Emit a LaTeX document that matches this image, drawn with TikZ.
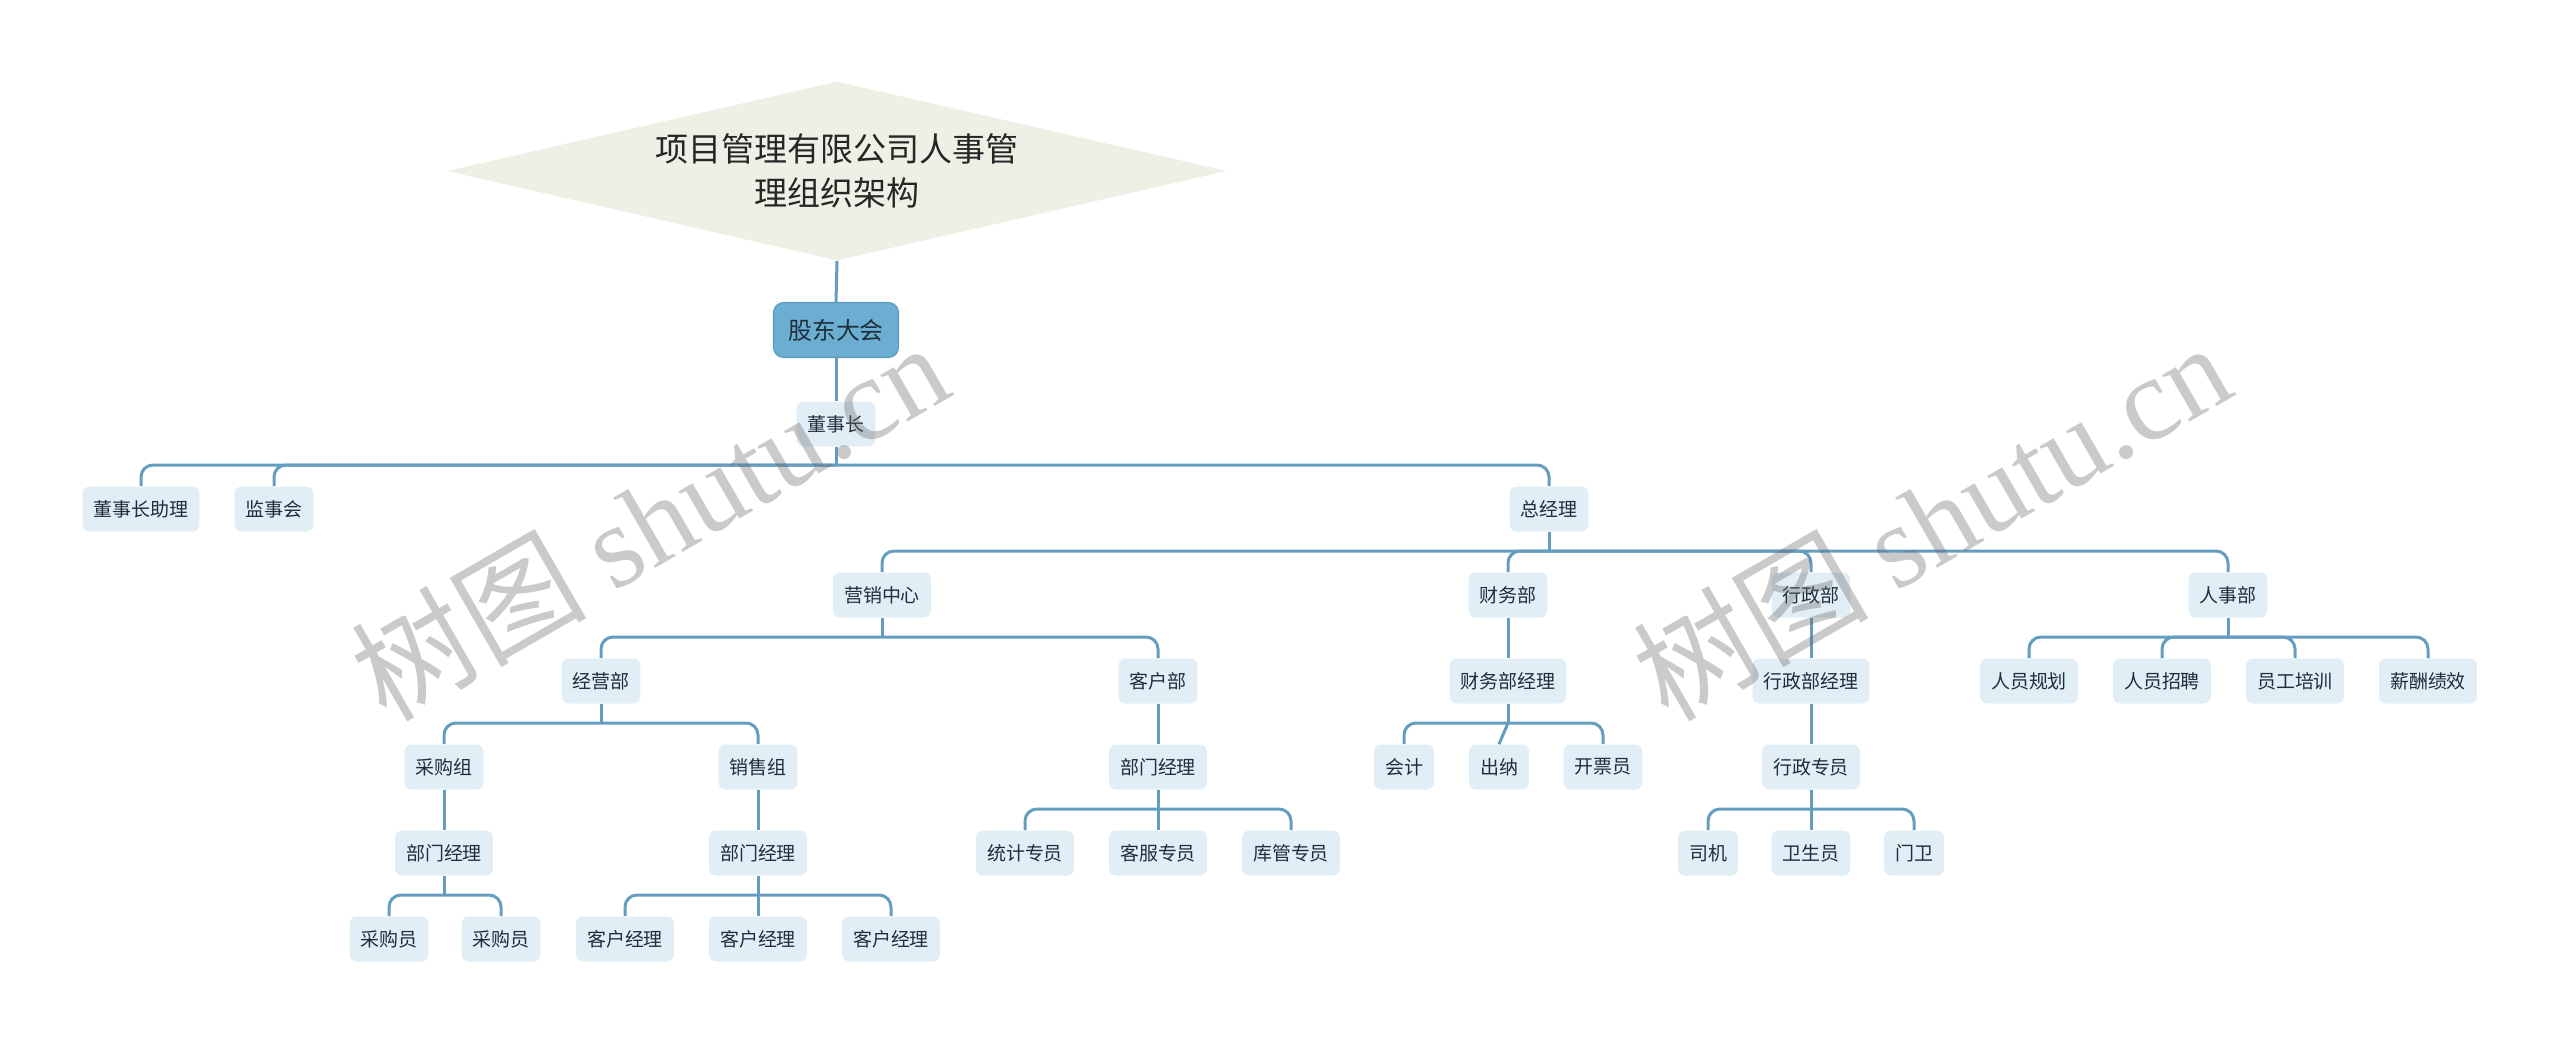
\documentclass[tikz,border=0pt]{standalone}
\usepackage{fontspec}
\setmainfont{Noto Sans CJK SC}
\newfontfamily\wmlatin{Liberation Serif}
\usetikzlibrary{shapes.geometric}

\definecolor{linkblue}{HTML}{659DC0}
\definecolor{boxfill}{HTML}{E1EEF6}
\definecolor{topfill}{HTML}{6BAED2}
\definecolor{topdraw}{HTML}{5B9BC0}
\definecolor{titlefill}{HTML}{EFEFE6}
\definecolor{boxtext}{HTML}{1F2E3B}

\tikzset{
  box/.style={rectangle, rounded corners=0.14cm, fill=boxfill, text=boxtext,
    minimum height=0.9cm, inner xsep=0.22cm, inner ysep=0pt,
    font=\fontsize{10.8}{13}\selectfont},
  topbox/.style={rectangle, rounded corners=0.2cm, fill=topfill, draw=topdraw,
    line width=0.6pt, text=boxtext, minimum width=2.5cm, minimum height=1.1cm,
    font=\fontsize{13.6}{16}\selectfont},
  link/.style={draw=linkblue, line width=0.06cm, rounded corners=0.24cm},
  watermark/.style={rotate=30, text=black!60, text opacity=0.35,
    font=\fontsize{67}{67}\selectfont}
}

\begin{document}
\begin{tikzpicture}[x=0.02cm, y=-0.02cm]
\useasboundingbox (0,0) rectangle (2560,1045);

% Title and top of the tree
\node[diamond, aspect=4.36, fill=titlefill, minimum width=15.6cm, minimum height=3.58cm,
  inner sep=0pt, align=center, text=black!85, font=\fontsize{18.8}{25}\selectfont]
  (title) at (837,171) {项目管理有限公司人事管\\理组织架构};
\node[topbox] (gd) at (836,330) {股东大会};
\node[box] (dsz) at (836,424) {董事长};

% Level 2
\node[box] (dszzl) at (141,509) {董事长助理};
\node[box] (jsh) at (274,509) {监事会};
\node[box] (zjl) at (1549,509) {总经理};

% Level 3
\node[box] (yxzx) at (882,595) {营销中心};
\node[box] (cwb) at (1508,595) {财务部};
\node[box] (xzb) at (1811,595) {行政部};
\node[box] (rsb) at (2228,595) {人事部};

% Level 4
\node[box] (jyb) at (601,681) {经营部};
\node[box] (khb) at (1158,681) {客户部};
\node[box] (cwjl) at (1508,681) {财务部经理};
\node[box] (xzjl) at (1811,681) {行政部经理};
\node[box] (rygh) at (2029,681) {人员规划};
\node[box] (ryzp) at (2162,681) {人员招聘};
\node[box] (ygpx) at (2295,681) {员工培训};
\node[box] (xcjx) at (2428,681) {薪酬绩效};

% Level 5
\node[box] (cgz) at (444,767) {采购组};
\node[box] (xsz) at (758,767) {销售组};
\node[box] (khbjl) at (1158,767) {部门经理};
\node[box] (kj) at (1404,767) {会计};
\node[box] (cn) at (1499,767) {出纳};
\node[box] (kpy) at (1603,767) {开票员};
\node[box] (xzzy) at (1811,767) {行政专员};

% Level 6
\node[box] (cgjl) at (444,853) {部门经理};
\node[box] (xsjl) at (758,853) {部门经理};
\node[box] (tjzy) at (1025,853) {统计专员};
\node[box] (kfzy) at (1158,853) {客服专员};
\node[box] (kgzy) at (1291,853) {库管专员};
\node[box] (sj) at (1708,853) {司机};
\node[box] (wsy) at (1811,853) {卫生员};
\node[box] (mw) at (1914,853) {门卫};

% Level 7
\node[box] (cgy1) at (389,939) {采购员};
\node[box] (cgy2) at (501,939) {采购员};
\node[box] (khjl1) at (625,939) {客户经理};
\node[box] (khjl2) at (758,939) {客户经理};
\node[box] (khjl3) at (891,939) {客户经理};

% Bar points
\coordinate (b0) at (836,465);
\coordinate (b1) at (1549,551);
\coordinate (b2) at (882,637);
\coordinate (b3) at (2228,637);
\coordinate (b4) at (601,723);
\coordinate (b5) at (1508,723);
\coordinate (b6) at (1158,809);
\coordinate (b7) at (1811,809);
\coordinate (b8) at (444,895);
\coordinate (b9) at (758,895);

% Single links
\draw[link] (title.south) -- (gd.north);
\draw[link] (gd.south) -- (dsz.north);
\draw[link] (cwb.south) -- (cwjl.north);
\draw[link] (xzb.south) -- (xzjl.north);
\draw[link] (khb.south) -- (khbjl.north);
\draw[link] (xzjl.south) -- (xzzy.north);
\draw[link] (cgz.south) -- (cgjl.north);
\draw[link] (xsz.south) -- (xsjl.north);

% Branches
\foreach \up/\bar in {dsz/b0, zjl/b1, yxzx/b2, rsb/b3, jyb/b4, cwjl/b5, khbjl/b6, xzzy/b7, cgjl/b8, xsjl/b9}
  \draw[link] (\up.south) -- (\bar);
\foreach \bar/\kid in {b0/dszzl, b0/jsh, b0/zjl,
    b1/yxzx, b1/cwb, b1/xzb, b1/rsb,
    b2/jyb, b2/khb,
    b3/rygh, b3/ryzp, b3/ygpx, b3/xcjx,
    b4/cgz, b4/xsz,
    b5/kj, b5/kpy,
    b6/tjzy, b6/kgzy,
    b7/sj, b7/mw,
    b8/cgy1, b8/cgy2,
    b9/khjl1, b9/khjl3}
  \draw[link] (\bar) -| (\kid.north);
\draw[link] (b5) -- (cn.north);
\draw[link] (b6) -- (kfzy.north);
\draw[link] (b7) -- (wsy.north);
\draw[link] (b9) -- (khjl2.north);

% Watermarks
\node[watermark] (wm1) at (649,520) {树图 {\wmlatin shutu.cn}};
\node[watermark] (wm2) at (1931,520) {树图 {\wmlatin shutu.cn}};
\end{tikzpicture}
\end{document}
